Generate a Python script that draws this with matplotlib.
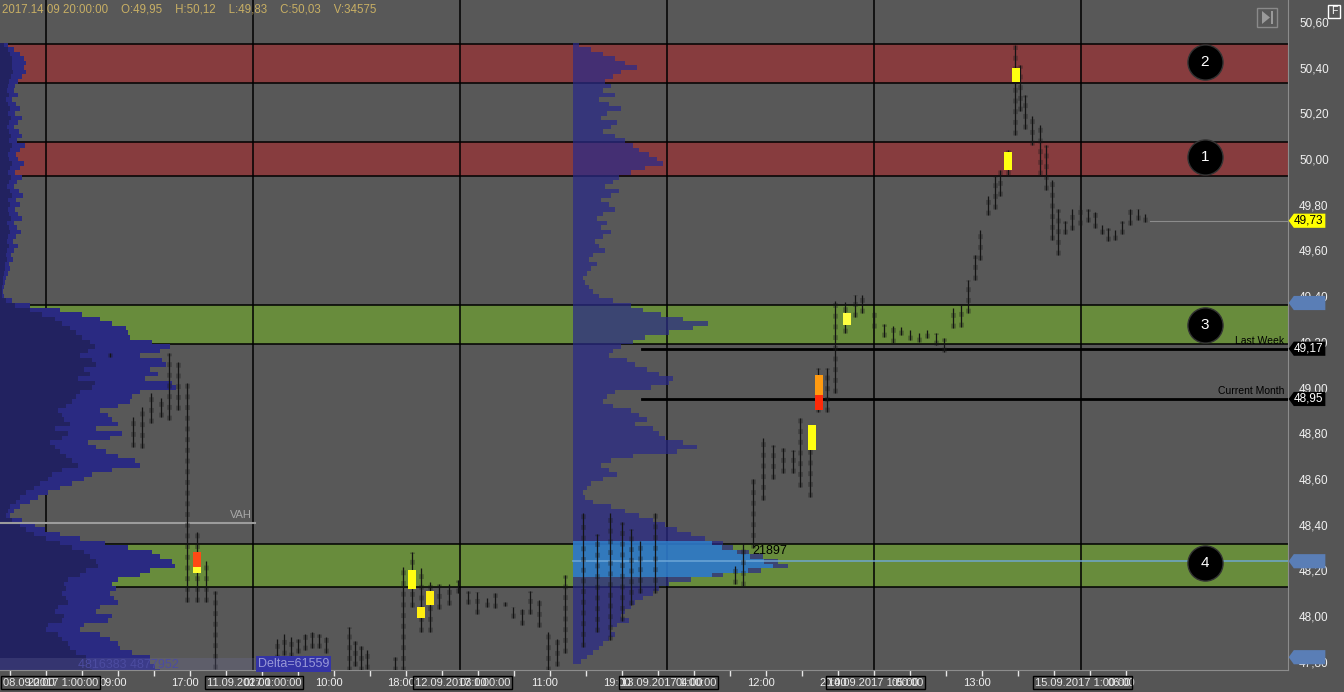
import matplotlib
matplotlib.use("Agg")
import matplotlib.pyplot as plt
import numpy as np
from matplotlib import rcParams
from matplotlib.patches import Rectangle, Polygon
from matplotlib.transforms import blended_transform_factory

rcParams['font.family'] = ['Liberation Sans', 'DejaVu Sans']

# ---- data ----
header = "2017.14 09 20:00:00    O:49,95    H:50,12    L:49,83    C:50,03    V:34575"

# price zones (low, high, colour, circle label)
zone_lo = [50.333, 49.926, 49.191, 48.127]
zone_hi = [50.504, 50.075, 49.361, 48.316]
zone_col = ['#873c3e', '#873c3e', '#688c3c', '#688c3c']
zone_num = ['2', '1', '3', '4']
zone_circle_p = [50.425, 50.009, 49.274, 48.232]
circle_t = 1205

grid_t = [46, 253, 460, 667, 874, 1081]

# left (composite) volume profile, levels from 50.50 down in 0.02 steps
left_prof = [8, 14, 20, 24, 26, 24, 26, 22, 18, 15, 14, 18, 12, 16, 20,
             15, 22, 18, 14, 19, 22, 17, 25, 20, 16, 18, 24, 20, 15, 22,
             17, 14, 19, 23, 16, 20, 15, 18, 22, 14, 17, 21, 16, 13, 18,
             14, 11, 13, 9, 10, 8, 6, 5, 4, 3, 4, 12, 30, 60, 82,
             100, 112, 126, 128, 130, 152, 170, 160, 140, 162,
             166, 150, 158, 145, 172, 176, 140, 132, 130, 118,
             100, 108, 112, 118, 96, 122, 110, 88, 96, 106,
             118, 135, 140, 112, 92, 84, 72, 60, 48, 38,
             30, 20, 14, 10, 22, 35, 45, 60, 80, 105,
             128, 152, 160, 172, 175, 150, 140, 118, 112, 116,
             110, 114, 118, 100, 96, 112, 108, 84, 80, 100,
             110, 118, 120, 132, 150, 150, 155, 160]
left_inner = [4, 8, 10, 12, 12, 12, 13, 11, 9, 8, 7, 9, 6, 8, 10,
              8, 11, 9, 7, 9, 11, 9, 12, 10, 8, 9, 12, 10, 8, 11,
              9, 7, 10, 12, 8, 10, 8, 9, 11, 7, 9, 10, 8, 7, 9,
              7, 6, 7, 5, 5, 4, 3, 3, 2, 2, 2, 6, 15, 30, 42,
              55, 62, 70, 76, 82, 90, 95, 88, 80, 92,
              96, 84, 90, 78, 95, 92, 80, 76, 72, 66,
              58, 62, 64, 70, 55, 68, 62, 50, 55, 60,
              66, 72, 78, 62, 52, 48, 40, 34, 26, 20,
              16, 10, 8, 6, 12, 20, 26, 34, 46, 60,
              72, 84, 90, 96, 98, 86, 80, 68, 64, 66,
              62, 66, 68, 58, 55, 64, 62, 48, 46, 58,
              62, 68, 70, 76, 86, 88, 90, 92]
# weekly profile starting at t=573
mid_start = 573
mid_prof = [6, 18, 30, 42, 52, 64, 48, 40, 32, 38, 30, 42, 26, 36, 48,
            34, 28, 44, 38, 30, 42, 52, 60, 66, 76, 84, 90, 72, 58, 46,
            40, 32, 46, 38, 28, 36, 42, 30, 24, 34, 28, 38, 30, 22, 26,
            32, 20, 16, 24, 18, 14, 10, 12, 16, 20, 26, 40, 58, 70, 88,
            110, 135, 120, 96, 72, 60, 48, 40, 36, 54,
            62, 74, 86, 100, 96, 78, 42, 34, 30, 40,
            58, 66, 74, 62, 80, 86, 92, 110, 124, 104,
            60, 38, 28, 36, 44, 30, 18, 14, 10, 12,
            20, 38, 52, 66, 80, 92, 104, 118, 132, 150,
            160, 176, 190, 205, 215, 188, 150, 118, 96, 86,
            80, 70, 62, 58, 52, 48, 56, 44, 38, 42,
            36, 30, 26, 20, 14, 8]
prof_top = 50.50
prof_step = 0.02

# price bars (time, low, high)
bar_t = [110, 133, 142, 151, 161, 169, 178, 187, 197, 206, 215,
         277, 284, 291, 298, 305, 312, 319, 326, 349, 355, 361, 367,
         395, 403, 412, 421, 430, 439, 449, 458, 468, 477, 487, 495,
         505, 513, 522, 530, 539, 548, 557, 565, 583, 597, 610, 622,
         631, 640, 655, 735, 743, 753, 763, 773, 783, 793, 800, 810,
         818, 827, 835, 845, 855, 862, 874, 884, 893, 901, 910, 919,
         927, 936, 944, 953, 961, 968, 975, 980, 988, 995, 1000, 1008,
         1015, 1020, 1025, 1032, 1040, 1046, 1052, 1058, 1065, 1072,
         1080, 1088, 1095, 1102, 1108, 1115, 1122, 1130, 1138, 1145]
bar_lo = [49.135, 48.74, 48.735, 48.845, 48.87, 48.86, 48.90, 48.06, 48.06, 48.06, 47.77,
          47.81, 47.83, 47.82, 47.84, 47.85, 47.86, 47.86, 47.84, 47.76, 47.78, 47.76, 47.77,
          47.76, 47.76, 48.04, 47.93, 47.93, 48.03, 48.05, 48.10, 48.055, 48.01, 48.04, 48.035,
          48.045, 47.99, 47.96, 48.01, 47.95, 47.76, 47.78, 47.84, 47.865, 47.93, 47.895, 47.98,
          48.05, 48.10, 48.10, 48.14, 48.13, 48.30, 48.51, 48.60, 48.626, 48.626, 48.565, 48.52,
          48.893, 48.893, 48.976, 49.239, 49.31, 49.326, 49.26, 49.22, 49.195, 49.23, 49.21, 49.20,
          49.217, 49.186, 49.156, 49.26, 49.265, 49.326, 49.47, 49.56, 49.755, 49.78, 49.84, 49.93,
          50.105, 50.21, 50.13, 50.06, 49.93, 49.865, 49.645, 49.58, 49.67, 49.69,
          49.71, 49.725, 49.70, 49.67, 49.64, 49.645, 49.67, 49.71, 49.735, 49.725]
bar_hi = [49.15, 48.87, 48.915, 48.975, 48.955, 49.15, 49.11, 49.02, 48.37, 48.24, 48.11,
          47.90, 47.92, 47.91, 47.90, 47.92, 47.93, 47.92, 47.91, 47.95, 47.89, 47.87, 47.85,
          47.82, 48.215, 48.28, 48.21, 48.15, 48.14, 48.14, 48.16, 48.11, 48.105, 48.08, 48.10,
          48.06, 48.04, 48.03, 48.11, 48.07, 47.93, 47.90, 48.18, 48.45, 48.36, 48.45, 48.41,
          48.38, 48.33, 48.45, 48.22, 48.32, 48.60, 48.78, 48.75, 48.735, 48.727, 48.867, 48.836,
          49.086, 49.086, 49.38, 49.375, 49.405, 49.405, 49.33, 49.28, 49.27, 49.266, 49.25, 49.24,
          49.25, 49.24, 49.217, 49.35, 49.36, 49.47, 49.58, 49.69, 49.84, 49.93, 49.95, 50.04,
          50.50, 50.41, 50.28, 50.19, 50.15, 50.06, 49.91, 49.78, 49.73, 49.78,
          49.80, 49.78, 49.77, 49.71, 49.70, 49.69, 49.73, 49.78, 49.78, 49.76]

# footprint hot spots (time, low, high, colour)
hot_t = [197, 197, 412, 421, 430, 812, 819, 819, 847, 1008, 1016]
hot_lo = [48.215, 48.19, 48.12, 47.99, 48.05, 48.727, 48.968, 48.90, 49.274, 49.95, 50.337]
hot_hi = [48.28, 48.215, 48.20, 48.04, 48.11, 48.836, 49.055, 48.968, 49.326, 50.03, 50.40]
hot_col = ['#ff4a14', '#ffff30', '#ffff10', '#ffee10', '#ffee10', '#ffff10',
           '#ff9a10', '#ff2a08', '#ffff40', '#ffff10', '#ffff10']

last_week = 49.17
current_month = 48.95
last_price = 49.73
poc_price = 48.24
vah_price = 48.407
blue_tags = [49.37, 48.24, 47.82]

y_ticks = [47.8, 48.0, 48.2, 48.4, 48.6, 48.8, 49.0, 49.2, 49.4, 49.6, 49.8, 50.0, 50.2, 50.4, 50.6]

time_lab_t = [46, 118, 190, 262, 334, 406, 478, 550, 622, 694, 766, 838, 910, 982, 1126]
time_lab = ['20:00', '09:00', '17:00', '02:00', '10:00', '18:00', '03:00', '11:00',
            '19:00', '04:00', '12:00', '20:00', '05:00', '13:00', '06:00']
date_box_t = [1, 205, 413, 619, 826, 1033]
date_box = ['08.09.2017 1:00:00', '11.09.2017 1:00:00', '12.09.2017 1:00:00',
            '13.09.2017 1:00:00', '14.09.2017 1:00:00', '15.09.2017 1:00:00']

# ---- figure ----
bg = '#585858'
fig = plt.figure(figsize=(13.44, 6.92), dpi=100)
fig.patch.set_facecolor('#555555')
ax = fig.add_axes([0, 22 / 692, 1288 / 1344, 670 / 692])
ax.set_facecolor(bg)
ax.set_xlim(0, 1288)
ax.set_ylim(47.764, 50.696)
tr = blended_transform_factory(ax.transAxes, ax.transData)
trx = blended_transform_factory(ax.transData, ax.transAxes)

for lo, hi, c in zip(zone_lo, zone_hi, zone_col):
    ax.axhspan(lo, hi, color=c, lw=0, zorder=1)
    ax.axhline(lo, color='black', lw=1.1, zorder=1.5)
    ax.axhline(hi, color='black', lw=1.1, zorder=1.5)
for g in grid_t:
    ax.axvline(g, color='black', lw=1.1, zorder=1.4)

# profiles
lv_left = prof_top - prof_step * np.arange(len(left_prof))
ax.barh(lv_left, left_prof, height=prof_step, left=0, color='#2a2a82', lw=0, zorder=2)
ax.barh(lv_left, left_inner, height=prof_step, left=0, color='#222260', lw=0, zorder=2.1)
lv_mid = prof_top - prof_step * np.arange(len(mid_prof))
ax.barh(lv_mid, mid_prof, height=prof_step, left=mid_start, color='#2a2a88',
        alpha=0.72, lw=0, zorder=2.5)
va = (lv_mid > 48.175) & (lv_mid < 48.325)
ax.barh(lv_mid[va], np.array(mid_prof)[va] * 0.93, height=prof_step, left=mid_start,
        color='#2f90dc', alpha=0.7, lw=0, zorder=2.6)

# level lines
ax.axhline(poc_price, xmin=mid_start / 1288, xmax=1, color='#6fa8d8', lw=1.3, alpha=0.8, zorder=3)
ax.plot([642, 1288], [last_week, last_week], color='black', lw=2, zorder=3)
ax.plot([642, 1288], [current_month, current_month], color='black', lw=2, zorder=3)
ax.text(1284, last_week + 0.012, 'Last Week', ha='right', va='bottom', fontsize=7.5, color='black', zorder=6)
ax.text(1284, current_month + 0.012, 'Current Month', ha='right', va='bottom', fontsize=7.5, color='black', zorder=6)
ax.plot([1150, 1288], [last_price, last_price], color='#8c8c8c', lw=0.8, zorder=3)
ax.plot([0, 255], [vah_price, vah_price], color='#9c9c9c', lw=1.5, zorder=3)
ax.text(252, vah_price + 0.015, 'VAH', ha='right', va='bottom', fontsize=8, color='#a8a8a8', zorder=6)

# price bars
ax.vlines(bar_t, bar_lo, bar_hi, color='#1a1a1a', lw=3.5, alpha=0.3,
          linestyles=(0, (1, 1.2)), zorder=4)
ax.vlines(bar_t, bar_lo, bar_hi, color='#141414', lw=0.9, zorder=4.1)
for t, lo, hi, c in zip(hot_t, hot_lo, hot_hi, hot_col):
    ax.bar(t, hi - lo, bottom=lo, width=8, color=c, lw=0, zorder=4.5)
ax.text(752, 48.285, '21897', fontsize=9, color='black', va='center', zorder=6)

# numbered circles
ax.scatter([circle_t] * 4, zone_circle_p, s=640, c='black', edgecolors='#333333', zorder=5)
for n, p in zip(zone_num, zone_circle_p):
    ax.text(circle_t, p, n, color='white', fontsize=11, ha='center', va='center', zorder=6)

# bottom overlays
ax.add_patch(Rectangle((0, 47.764), 255, 0.052, fc='#7070a0', alpha=0.25, lw=0, zorder=5))
ax.text(78, 47.785, '4816383 4877952', fontsize=9, color='#4c4ca0', va='center', zorder=6)
ax.text(258, 47.79, 'Delta=61559', fontsize=9, color='#9898d8', va='center', zorder=6,
        bbox=dict(boxstyle='square,pad=0.15', fc='#3434a6', ec='none'))

# right axis
ax.yaxis.tick_right()
ax.set_yticks(y_ticks)
ax.set_yticklabels([f"{v:.2f}".replace('.', ',') for v in y_ticks])
ax.tick_params(axis='y', length=0, pad=8, labelsize=8.5, labelcolor='#f0f0f0')
ax.set_xticks(np.arange(10, 1127, 36))
ax.set_xticklabels([])
ax.tick_params(axis='x', length=4, width=1, color='#e8e8e8', direction='out')
for s in ['top', 'left']:
    ax.spines[s].set_visible(False)
for s in ['right', 'bottom']:
    ax.spines[s].set_color('#8c8c8c')

for t, lab in zip(time_lab_t, time_lab):
    ax.text(t - 5, -0.019, lab, transform=trx, ha='center', va='center', fontsize=8,
            color='#f0f0f0', clip_on=False)
for t, lab in zip(date_box_t, date_box):
    ax.text(t + 2, -0.019, lab, transform=trx, ha='left', va='center', fontsize=8,
            color='#e8e8e8', clip_on=False,
            bbox=dict(boxstyle='square,pad=0.15', fc='none', ec='black', lw=1))

# price tags on the right axis
def tag(p, fc, tc, txt):
    h = 0.031
    pts = [(1.0005, p), (1.0045, p + h), (1.029, p + h), (1.029, p - h), (1.0045, p - h)]
    ax.add_patch(Polygon(pts, closed=True, transform=tr, fc=fc, ec='none', clip_on=False, zorder=7))
    if txt:
        ax.text(1.0045, p, txt, transform=tr, fontsize=8.5, color=tc, va='center', ha='left',
                clip_on=False, zorder=8)

for p in blue_tags:
    tag(p, '#5a7eb6', None, '')
tag(last_price, '#ffff00', 'black', f"{last_price:.2f}".replace('.', ','))
tag(last_week, 'black', 'white', f"{last_week:.2f}".replace('.', ','))
tag(current_month, 'black', 'white', f"{current_month:.2f}".replace('.', ','))

# header and buttons
fig.text(0.0015, 1 - 10 / 692, header, fontsize=8.3, color='#c8af64', va='center', ha='left')
fig.patches.append(Rectangle((1257 / 1344, 1 - 27 / 692), 20 / 1344, 19 / 692,
                             transform=fig.transFigure, fc='none', ec='#8a8a8a', lw=1))
fig.patches.append(Polygon([(1262 / 1344, 1 - 11 / 692), (1262 / 1344, 1 - 24 / 692),
                            (1270 / 1344, 1 - 17.5 / 692)], closed=True,
                           transform=fig.transFigure, fc='#9a9a9a', ec='none'))
fig.patches.append(Rectangle((1270.5 / 1344, 1 - 24 / 692), 2.5 / 1344, 13 / 692,
                             transform=fig.transFigure, fc='#9a9a9a', ec='none'))
fig.patches.append(Rectangle((1328 / 1344, 1 - 18 / 692), 12 / 1344, 13 / 692,
                             transform=fig.transFigure, fc='none', ec='white', lw=1))
fig.text(1334 / 1344, 1 - 11.5 / 692, 'F', fontsize=7.5, color='white', ha='center', va='center')

fig.savefig('out.png', dpi=100, facecolor=fig.get_facecolor())
